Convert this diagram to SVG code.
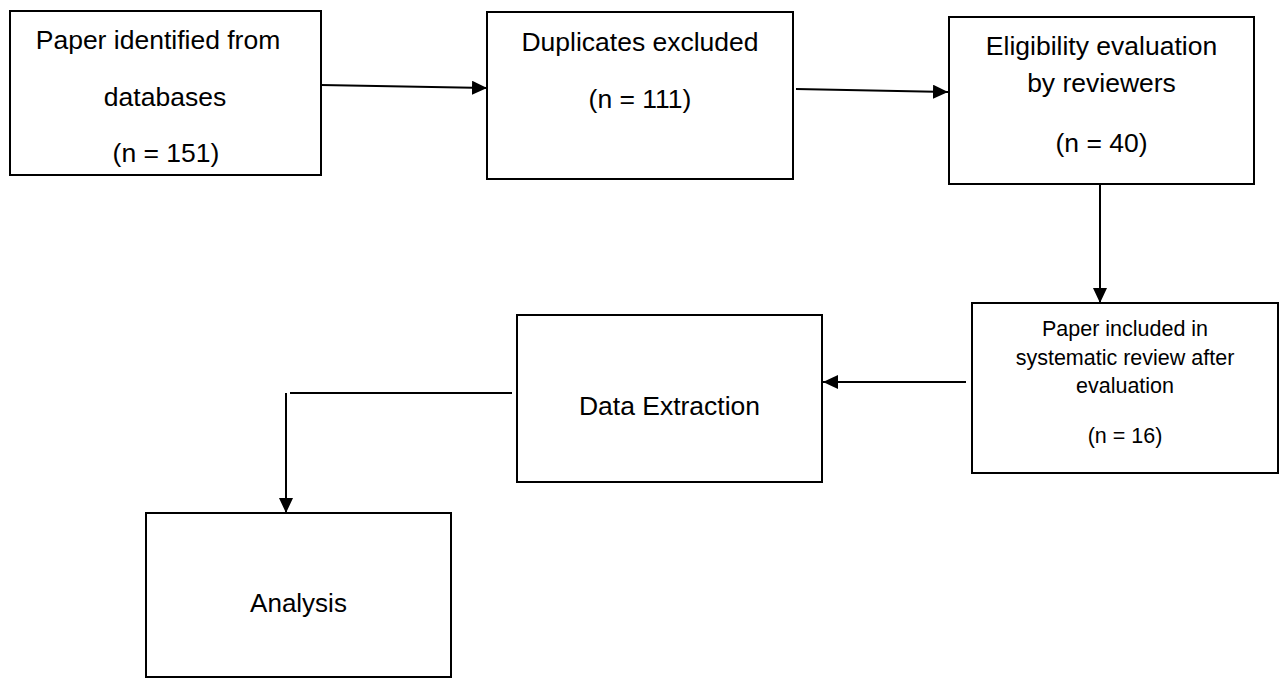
<svg xmlns="http://www.w3.org/2000/svg" width="1280" height="680" viewBox="0 0 1280 680">
  <style>
    .box { fill: #ffffff; stroke: #000000; stroke-width: 2; }
    .lbl { font-family: "Liberation Sans", Arial, sans-serif; font-size: 26.5px; fill: #000000; text-anchor: middle; }
    .sm { font-size: 21.5px; }
    .edge { fill: none; stroke: #000000; stroke-width: 2; }
  </style>
  <defs>
    <marker id="arrow" viewBox="0 0 15 14" refX="15" refY="7" markerWidth="15" markerHeight="14" markerUnits="userSpaceOnUse" orient="auto">
      <path d="M0,0 L15,7 L0,14 z" fill="#000000"/>
    </marker>
  </defs>
  <rect width="1280" height="680" fill="#ffffff"/>

  <g id="connectors">
    <line class="edge" x1="321" y1="85" x2="487" y2="88" marker-end="url(#arrow)"/>
    <line class="edge" x1="796" y1="89" x2="948" y2="92" marker-end="url(#arrow)"/>
    <line class="edge" x1="1100" y1="185" x2="1100" y2="303" marker-end="url(#arrow)"/>
    <line class="edge" x1="966" y1="382" x2="823" y2="382" marker-end="url(#arrow)"/>
    <line class="edge" x1="512" y1="393" x2="290" y2="393"/>
    <line class="edge" x1="286" y1="393" x2="286" y2="513" marker-end="url(#arrow)"/>
  </g>

  <g id="node-identified">
    <rect class="box" x="10" y="11" width="311" height="164"/>
    <text class="lbl" x="158" y="49">Paper identified from</text>
    <text class="lbl" x="165" y="106">databases</text>
    <text class="lbl" x="166" y="162">(n = 151)</text>
  </g>

  <g id="node-duplicates">
    <rect class="box" x="487" y="12" width="306" height="167"/>
    <text class="lbl" x="640" y="51">Duplicates excluded</text>
    <text class="lbl" x="640" y="108">(n = 111)</text>
  </g>

  <g id="node-eligibility">
    <rect class="box" x="949" y="17" width="305" height="167"/>
    <text class="lbl" x="1101.5" y="55">Eligibility evaluation</text>
    <text class="lbl" x="1101.5" y="92">by reviewers</text>
    <text class="lbl" x="1101.5" y="152">(n = 40)</text>
  </g>

  <g id="node-included">
    <rect class="box" x="972" y="303" width="306" height="170"/>
    <text class="lbl sm" x="1125" y="336">Paper included in</text>
    <text class="lbl sm" x="1125" y="365">systematic review after</text>
    <text class="lbl sm" x="1125" y="393">evaluation</text>
    <text class="lbl sm" x="1125" y="443">(n = 16)</text>
  </g>

  <g id="node-extraction">
    <rect class="box" x="517" y="315" width="305" height="167"/>
    <text class="lbl" x="669.5" y="415">Data Extraction</text>
  </g>

  <g id="node-analysis">
    <rect class="box" x="146" y="513" width="305" height="164"/>
    <text class="lbl" x="298.5" y="612" style="font-size:26px">Analysis</text>
  </g>
</svg>
